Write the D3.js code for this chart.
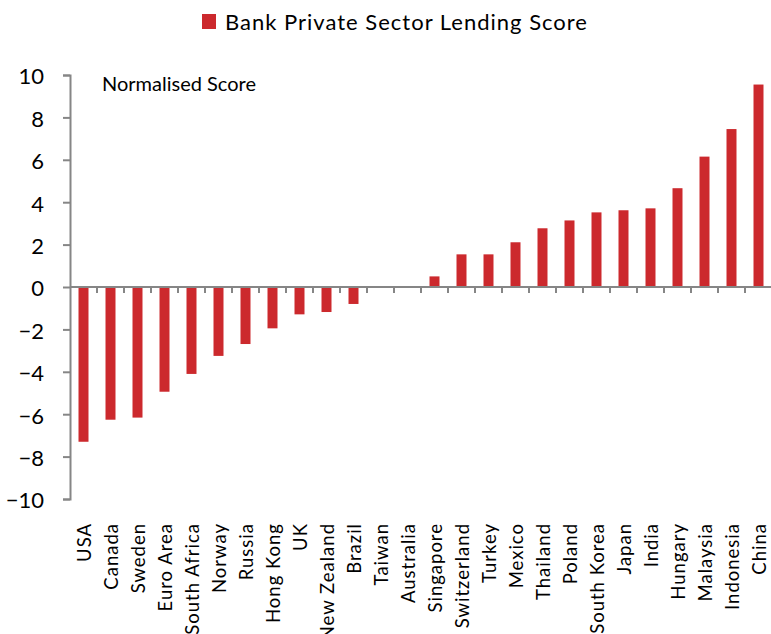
<!DOCTYPE html>
<html>
<head>
<meta charset="utf-8">
<script src="https://cdn.jsdelivr.net/npm/d3@7"></script>
<style>
  html, body { margin: 0; padding: 0; background: #fff; }
  svg { display: block; font-family: Lato, "Open Sans", sans-serif; }
</style>
</head>
<body>
<svg id="chart" width="771" height="634"></svg>
<script>
// Countries, ordered from weakest to strongest lending score
const countries = ["USA", "Canada", "Sweden", "Euro Area", "South Africa", "Norway", "Russia",
  "Hong Kong", "UK", "New Zealand", "Brazil", "Taiwan", "Australia", "Singapore", "Switzerland",
  "Turkey", "Mexico", "Thailand", "Poland", "South Korea", "Japan", "India", "Hungary",
  "Malaysia", "Indonesia", "China"];
const scores = [-7.3, -6.26, -6.16, -4.94, -4.1, -3.25, -2.69, -1.95, -1.29, -1.18, -0.8,
  0.04, 0.04, 0.5, 1.54, 1.54, 2.11, 2.77, 3.14, 3.52, 3.62, 3.71, 4.66, 6.15, 7.45, 9.55];
const yTicks = [-10, -8, -6, -4, -2, 0, 2, 4, 6, 8, 10];
const seriesName = "Bank Private Sector Lending Score";
const subtitle = "Normalised Score";

const barColor = "#cc292d";
const axisColor = "#868686";

const svg = d3.select("#chart");
const plotLeft = 70, plotRight = 772, plotTop = 75, plotBottom = 499;

const x = d3.scaleBand().domain(countries).range([plotLeft, plotRight])
  .paddingInner(0.63).paddingOuter(0.315);
const y = d3.scaleLinear().domain([-10, 10]).range([plotBottom, plotTop]);

// Bars, drawn from the zero line
svg.append("g").selectAll("rect")
  .data(countries.map((c, i) => ({ c, v: scores[i] })))
  .join("rect")
  .attr("x", d => x(d.c))
  .attr("width", x.bandwidth())
  .attr("y", d => y(Math.max(0, d.v)))
  .attr("height", d => Math.abs(y(d.v) - y(0)))
  .attr("fill", barColor);

// Y axis
const yAxis = svg.append("g")
  .attr("transform", `translate(${plotLeft},0)`)
  .call(d3.axisLeft(y).tickValues(yTicks).tickSize(7).tickPadding(19).tickFormat(d3.format("d")));
yAxis.select(".domain").attr("stroke", axisColor).attr("stroke-width", 2);
yAxis.selectAll(".tick line").attr("stroke", axisColor).attr("stroke-width", 2);
yAxis.selectAll(".tick text").attr("fill", "#000").attr("dy", "0.4em")
  .style("font-size", "22px").style("font-family", "Lato, sans-serif");

// Zero line with category ticks at band boundaries
const step = x.step();
const boundaries = d3.range(1, countries.length + 1).map(i => plotLeft + i * step);
const zeroAxis = svg.append("g").attr("transform", `translate(0,${y(0)})`);
zeroAxis.append("line").attr("x1", plotLeft).attr("x2", plotRight)
  .attr("stroke", axisColor).attr("stroke-width", 2);
zeroAxis.selectAll("line.tk").data(boundaries).join("line").attr("class", "tk")
  .attr("x1", d => d).attr("x2", d => d).attr("y1", 0).attr("y2", 6)
  .attr("stroke", axisColor).attr("stroke-width", 2);

// Category labels, rotated, under the plot area
svg.append("g").selectAll("text")
  .data(countries).join("text")
  .attr("transform", d => `translate(${x(d) + x.bandwidth() / 2 + 1.5},523) rotate(-90)`)
  .attr("text-anchor", "end")
  .attr("dy", "0.35em")
  .style("font-size", "18.5px")
  .style("letter-spacing", "1px")
  .text(d => d);

// Subtitle inside the plot
svg.append("text").attr("x", 102).attr("y", 91).style("font-size", "20px").text(subtitle);

// Legend
svg.append("rect").attr("x", 202).attr("y", 14).attr("width", 14).attr("height", 15).attr("fill", barColor);
svg.append("text").attr("x", 225).attr("y", 29.5).style("font-size", "22px")
  .style("letter-spacing", "1px").text(seriesName);
</script>
</body>
</html>
